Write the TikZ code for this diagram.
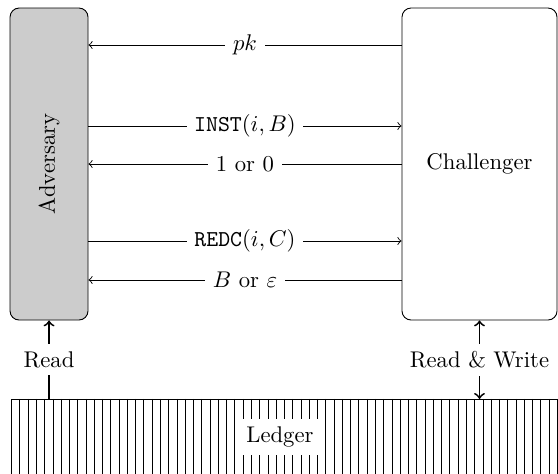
\documentclass[tikz,border=0pt]{standalone}
\usepackage{amsmath,amsfonts,amssymb}
\usetikzlibrary{positioning,arrows,calc}

\begin{document}
\begin{tikzpicture}[
	party/.style={draw, rounded corners=4pt, minimum width=#1, minimum height=4.83cm, inner sep=0pt},
	msg/.style={pos=0.5, fill=white},
	]
					\clip (0,0) rectangle (8.638,-7.337);
					\node[party=1.207cm, fill=black!20] (adv) at (0.759,-2.539) {\rotatebox{90}{Adversary}};
					\node[party=2.4cm] (chal) at (7.423,-2.539) {Challenger};
					\coordinate (ltop) at (0.18,-6.176);
					\draw (0.18,-7.6) -- (ltop) -- (8.8,-6.176);
					\foreach \x in {1,...,67}
						\draw (0.18+0.128*\x,-6.176) -- (0.18+0.128*\x,-7.6);
					\node[fill=white] (ledger) at (4.334,-6.765) {Ledger};
					\draw[->] ([yshift=1.842cm]chal.west) -- ([yshift=1.842cm]adv.east) node[msg] {$pk$};
					\draw[->] ([yshift=0.589cm]adv.east) -- ([yshift=0.589cm]chal.west) node[msg] {\texttt{INST}$(i,B)$};
					\draw[->] (chal.west) -- (adv.east) node[msg] {1 or 0};
					\draw[->] ([yshift=-1.192cm]adv.east) -- ([yshift=-1.192cm]chal.west) node[msg] {\texttt{REDC}$(i,C)$};
					\draw[->] ([yshift=-1.795cm]chal.west) -- ([yshift=-1.795cm]adv.east) node[msg] {$B$ or $\varepsilon$};
					\draw[thick, ->] (adv.south |- ltop) -- (adv.south) node[msg] {Read};
					\draw[thick, <->] (chal.south) -- (chal.south |- ltop) node[msg] {Read \& Write};
					\end{tikzpicture}
\end{document}
